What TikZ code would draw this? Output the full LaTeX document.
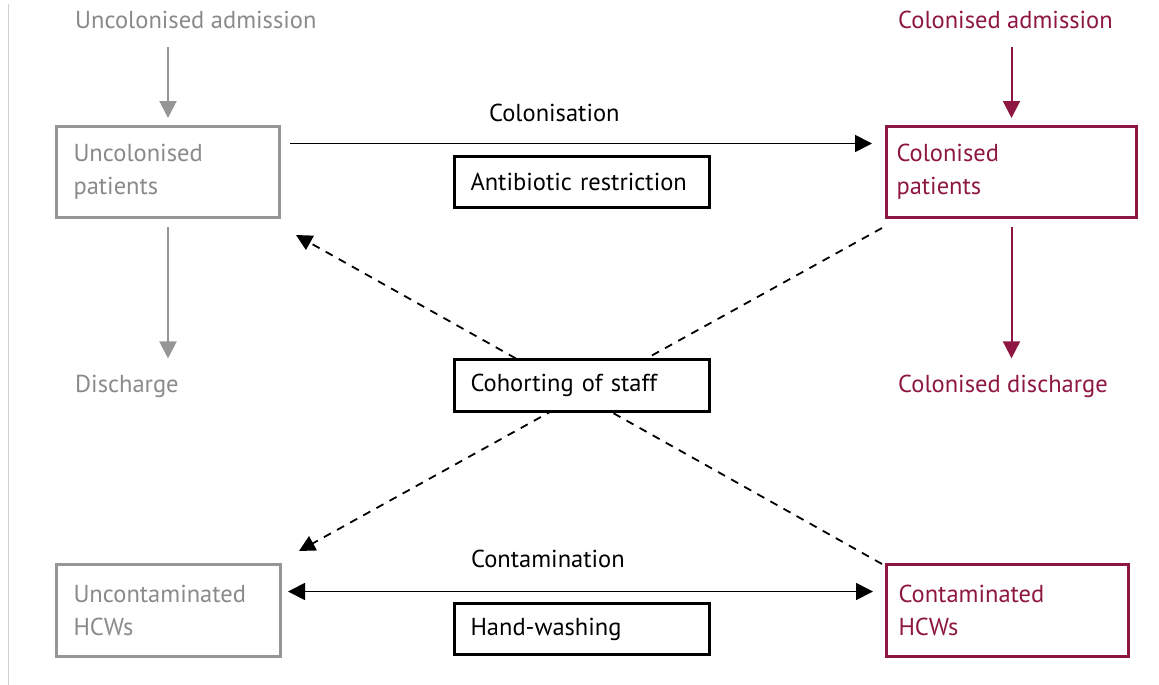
\documentclass[tikz,border=0pt]{standalone}
\usepackage{fontspec}
\setmainfont{PT Sans}
\usetikzlibrary{arrows.meta,backgrounds,calc}
\definecolor{gtext}{RGB}{138,138,138}
\definecolor{gline}{RGB}{150,150,150}
\definecolor{crim}{RGB}{142,22,66}
\begin{document}
\begin{tikzpicture}[x=1pt,y=-1pt,
  font=\fontsize{24.5}{33}\selectfont,
  sidebox/.style={draw,line width=3pt,fill=white,anchor=north west,align=left,inner ysep=0pt},
  midbox/.style={draw,line width=3pt,fill=white,anchor=north west,align=left,
    text width=223pt,inner xsep=16pt,minimum width=255pt},
  lbl/.style={anchor=base west,inner sep=3pt},
  tip/.style={-{Triangle[width=17pt,length=17pt]}},
  garr/.style={tip,draw=gline,line width=2pt},
  carr/.style={tip,draw=crim,line width=2pt},
  karr/.style={tip,draw=black,line width=1.8pt},
  darr/.style={-{Triangle[width=16pt,length=16pt]},draw=black,line width=1.8pt,dash pattern=on 8pt off 7pt}]
\useasboundingbox (0,0) rectangle (1159,685);
\draw[black!18,line width=1pt] (8,4) -- (8,685);

% left column
\node[lbl,text=gtext] (uadm) at (72,29) {Uncolonised admission};
\node[sidebox,draw=gline,text=gtext,text width=189pt,inner xsep=17pt,minimum height=91pt] (ucp) at (55,125) {Uncolonised\\patients};
\node[lbl,text=gtext] (disc) at (72,392) {Discharge};
\node[sidebox,draw=gline,text=gtext,text width=190pt,inner xsep=17pt,minimum height=92pt] (uhcw) at (55,563) {Uncontaminated\\HCWs};

% right column
\node[lbl,text=crim] (cadm) at (895,29) {Colonised admission};
\node[sidebox,draw=crim,text=crim,text width=230pt,inner xsep=10pt,minimum height=91pt] (cp) at (885,125) {Colonised\\patients};
\node[lbl,text=crim] (cdisc) at (895,392) {Colonised discharge};
\node[sidebox,draw=crim,text=crim,text width=218pt,inner xsep=12pt,minimum height=92pt] (chcw) at (885,563) {Contaminated\\HCWs};

% middle
\node[midbox,minimum height=51pt] (ab) at (453,155) {Antibiotic restriction};
\node[midbox,minimum height=52pt] (coh) at (453,358) {Cohorting of staff};
\node[midbox,minimum height=51pt] (hw) at (453,602) {Hand-washing};
\node[lbl] (colon) at (486,121) {Colonisation};
\node[lbl] (contam) at (468,567) {Contamination};

% vertical arrows
\draw[garr,shorten <=15pt,shorten >=7pt] (uadm.south -| ucp.north) -- (ucp.north);
\draw[garr,shorten <=8pt,shorten >=13pt] (ucp.south) -- (ucp.south |- disc.north);
\draw[carr,shorten <=15pt,shorten >=7pt] (cadm.south -| cp.north) -- (cp.north);
\draw[carr,shorten <=8pt,shorten >=13pt] (cp.south) -- (cp.south |- cdisc.north);

% horizontal arrows
\draw[karr] ([xshift=9pt,yshift=28.5pt]ucp.east) -- ([xshift=-13pt,yshift=28.5pt]cp.west);
\draw[karr,{Triangle[width=17pt,length=17pt]}-{Triangle[width=17pt,length=17pt]}] ([xshift=6pt,yshift=19pt]uhcw.east) -- ([xshift=-12pt,yshift=19pt]chcw.west);

% dashed cross behind the cohorting box
\begin{scope}[on background layer]
\fill[white] (0,0) rectangle (1159,685);
\draw[darr] ([shift={(-3,9)}]cp.south west) -- ([shift={(17,-12)}]uhcw.north east);
\draw[darr] ([shift={(-3,1)}]chcw.north west) -- ([shift={(15,16)}]ucp.south east);
\end{scope}
\end{tikzpicture}
\end{document}
